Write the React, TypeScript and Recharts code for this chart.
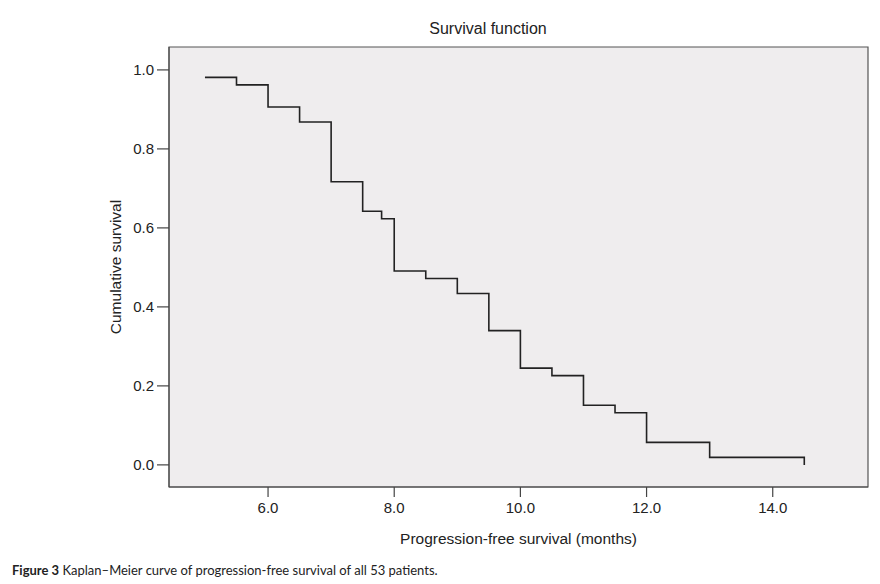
import React from "react";
import { LineChart, Line, XAxis, YAxis, ReferenceArea, Label } from "recharts";

// Kaplan–Meier steps (months, cumulative survival)
const months = [5.0, 5.5, 6.0, 6.5, 7.0, 7.5, 7.8, 8.0, 8.5, 9.0, 9.5, 10.0, 10.5, 11.0, 11.5, 12.0, 13.0, 14.5];
const survival = [0.981, 0.962, 0.906, 0.868, 0.717, 0.642, 0.623, 0.491, 0.472, 0.434, 0.340, 0.245, 0.226, 0.151, 0.132, 0.057, 0.019, 0.0];
const xTicks = [6, 8, 10, 12, 14];
const yTicks = [0, 0.2, 0.4, 0.6, 0.8, 1.0];

const data = months.map((m, i) => ({ t: m, s: survival[i] }));

const X_DOMAIN: [number, number] = [4.43, 15.51];
const Y_DOMAIN: [number, number] = [-0.056, 1.058];

const FONT = "Liberation Sans, Arial, sans-serif";
const tickStyle = { fontFamily: FONT, fontSize: 15, fill: "#222" };

export default function App() {
  return (
    <div style={{ position: "absolute", left: 0, top: 0, width: 880, height: 584, background: "#fff" }}>
      <div
        style={{
          position: "absolute",
          left: 388,
          width: 200,
          top: 20,
          textAlign: "center",
          fontFamily: FONT,
          fontSize: 16,
          color: "#222",
        }}
      >
        Survival function
      </div>
      <LineChart width={880} height={584} data={data} margin={{ top: 47, right: 12, bottom: 0, left: 0 }}>
        <XAxis
          dataKey="t"
          type="number"
          domain={X_DOMAIN}
          allowDataOverflow
          ticks={xTicks}
          tickFormatter={(v: number) => v.toFixed(1)}
          height={97}
          tickSize={10}
          tickMargin={5}
          tick={tickStyle}
          stroke="#444"
          axisLine={{ stroke: "#444" }}
          tickLine={{ stroke: "#444", strokeWidth: 1.2 }}
        >
          <Label
            value="Progression-free survival (months)"
            position="insideTop"
            offset={46}
            style={{ fontFamily: FONT, fontSize: 15.5, fill: "#222" }}
          />
        </XAxis>
        <YAxis
          dataKey="s"
          type="number"
          domain={Y_DOMAIN}
          allowDataOverflow
          ticks={yTicks}
          tickFormatter={(v: number) => v.toFixed(1)}
          width={169}
          tickSize={12}
          tickMargin={3}
          tick={tickStyle}
          stroke="#444"
          axisLine={{ stroke: "#444" }}
          tickLine={{ stroke: "#444", strokeWidth: 1.2 }}
        >
          <Label
            value="Cumulative survival"
            angle={-90}
            position="center"
            dx={31}
            style={{ fontFamily: FONT, fontSize: 15.5, fill: "#222", textAnchor: "middle" }}
          />
        </YAxis>
        <ReferenceArea
          x1={X_DOMAIN[0]}
          x2={X_DOMAIN[1]}
          y1={Y_DOMAIN[0]}
          y2={Y_DOMAIN[1]}
          fill="#efedee"
          fillOpacity={1}
          stroke="#555"
          strokeWidth={1.2}
        />
        <Line
          type="stepAfter"
          dataKey="s"
          stroke="#222"
          strokeWidth={1.6}
          dot={false}
          isAnimationActive={false}
        />
      </LineChart>
      <div
        style={{
          position: "absolute",
          left: 12,
          top: 562,
          fontFamily: "Lato, 'Open Sans', sans-serif",
          fontSize: 13,
          color: "#222",
          whiteSpace: "nowrap",
        }}
      >
        <b>Figure 3</b> Kaplan–Meier curve of progression-free survival of all 53 patients.
      </div>
    </div>
  );
}
